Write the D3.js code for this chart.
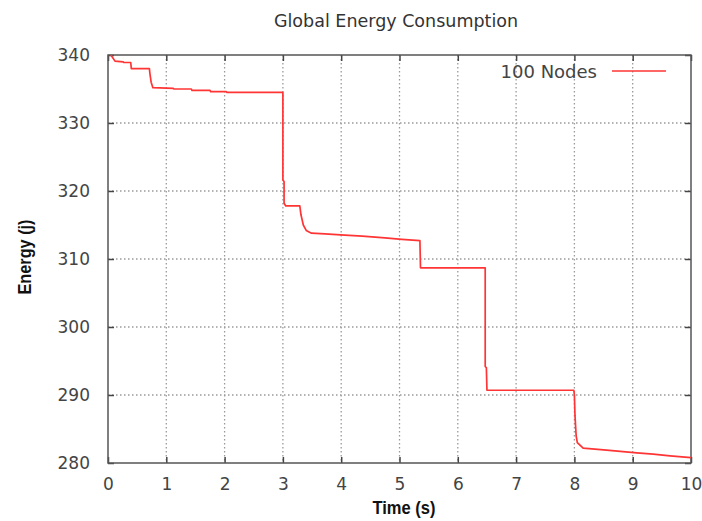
<!DOCTYPE html>
<html>
<head>
<meta charset="utf-8">
<script src="https://cdn.jsdelivr.net/npm/d3@7"></script>
<style>
  html, body { margin: 0; padding: 0; background: #fff; }
  svg { display: block; }
</style>
</head>
<body>
<svg id="chart" width="702" height="521"></svg>
<script>
// Simulation trace: total energy left in the network over time
const timeS = [0.05, 0.12, 0.26, 0.27, 0.39, 0.40, 0.71, 0.72, 0.74, 0.77, 1.12, 1.13, 1.43, 1.44,
  1.75, 1.76, 2.03, 2.04, 3.00, 3.00, 3.02, 3.02, 3.05, 3.29, 3.31, 3.35, 3.40, 3.49, 3.72, 4.06,
  4.36, 4.75, 5.04, 5.35, 5.36, 6.47, 6.47, 6.49, 6.50, 7.99, 8.00, 8.01, 8.03, 8.05, 8.15, 8.55,
  9.07, 9.35, 9.64, 10.00];
const energyJ = [340.0, 339.1, 339.0, 338.9, 338.9, 338.0, 338.0, 337.2, 336.0, 335.2, 335.1, 335.0, 335.0, 334.8,
  334.8, 334.6, 334.6, 334.5, 334.5, 321.6, 321.4, 318.2, 317.8, 317.8, 316.5, 315.0, 314.2, 313.8, 313.7, 313.5,
  313.35, 313.1, 312.9, 312.7, 308.7, 308.7, 294.2, 294.0, 290.7, 290.7, 290.0, 287.0, 284.0, 283.0, 282.2, 281.9,
  281.5, 281.3, 281.05, 280.8];
const seriesName = "100 Nodes";
const xTicks = [0, 1, 2, 3, 4, 5, 6, 7, 8, 9, 10];
const yTicks = [280, 290, 300, 310, 320, 330, 340];

const svg = d3.select("#chart");
const L = 108, R = 691, T = 55, B = 463;

const x = d3.scaleLinear().domain([0, 10]).range([L, R]);
const y = d3.scaleLinear().domain([280, 340]).range([B, T]);

const labelFont = "'DejaVu Sans', sans-serif";
const titleFont = "'Liberation Sans Narrow', 'Arial Narrow', sans-serif";

// dotted grid
const grid = svg.append("g").attr("stroke", "#9a9a9a").attr("stroke-width", 1.3)
  .attr("stroke-dasharray", "1.5,2.5");
grid.selectAll("line.v").data(xTicks.slice(1, -1)).join("line")
  .attr("x1", d => x(d)).attr("x2", d => x(d)).attr("y1", T).attr("y2", B);
grid.selectAll("line.h").data(yTicks.slice(1, -1)).join("line")
  .attr("x1", L).attr("x2", R).attr("y1", d => y(d)).attr("y2", d => y(d));

// axes with inward ticks, mirrored on top/right
function styleAxis(g) {
  g.select(".domain").remove();
  g.selectAll(".tick line").attr("stroke", "#444").attr("stroke-width", 1.5);
  g.selectAll(".tick text").attr("fill", "#444").attr("font-family", labelFont).attr("font-size", 17);
}
svg.append("g").attr("transform", `translate(0,${B})`)
  .call(d3.axisBottom(x).tickValues(xTicks).tickFormat(d3.format("d")).tickSizeInner(-6).tickPadding(15))
  .call(styleAxis);
svg.append("g").attr("transform", `translate(0,${T})`)
  .call(d3.axisTop(x).tickValues(xTicks).tickFormat("").tickSizeInner(-6))
  .call(styleAxis);
svg.append("g").attr("transform", `translate(${L},0)`)
  .call(d3.axisLeft(y).tickValues(yTicks).tickFormat(d3.format("d")).tickSizeInner(-6).tickPadding(18))
  .call(styleAxis);
svg.append("g").attr("transform", `translate(${R},0)`)
  .call(d3.axisRight(y).tickValues(yTicks).tickFormat("").tickSizeInner(-6))
  .call(styleAxis);

// frame
svg.append("rect").attr("x", L).attr("y", T).attr("width", R - L).attr("height", B - T)
  .attr("fill", "none").attr("stroke", "#555").attr("stroke-width", 1.5);

// energy trace
const pts = timeS.map((t, i) => [t, energyJ[i]]);
svg.append("path").datum(pts)
  .attr("fill", "none").attr("stroke", "#ff3535").attr("stroke-width", 1.7)
  .attr("stroke-linejoin", "round")
  .attr("d", d3.line().x(d => x(d[0])).y(d => y(d[1])));

// legend
svg.append("text").attr("x", 597).attr("y", 78).attr("text-anchor", "end")
  .attr("font-family", labelFont).attr("font-size", 18).attr("fill", "#444").text(seriesName);
svg.append("line").attr("x1", 612).attr("x2", 666).attr("y1", 71).attr("y2", 71)
  .attr("stroke", "#ff3535").attr("stroke-width", 1.7);

// titles
svg.append("text").attr("x", 396).attr("y", 27).attr("text-anchor", "middle")
  .attr("font-family", labelFont).attr("font-size", 17.5).attr("fill", "#333")
  .text("Global Energy Consumption");
svg.append("text").attr("x", 404).attr("y", 514).attr("text-anchor", "middle")
  .attr("font-family", titleFont).attr("font-weight", "bold").attr("font-size", 18).attr("fill", "#111")
  .attr("textLength", 63).attr("lengthAdjust", "spacingAndGlyphs")
  .text("Time (s)");
svg.append("text").attr("transform", "translate(31,257) rotate(-90)").attr("text-anchor", "middle")
  .attr("font-family", titleFont).attr("font-weight", "bold").attr("font-size", 18).attr("fill", "#111")
  .attr("textLength", 75).attr("lengthAdjust", "spacingAndGlyphs")
  .text("Energy (j)");
</script>
</body>
</html>
